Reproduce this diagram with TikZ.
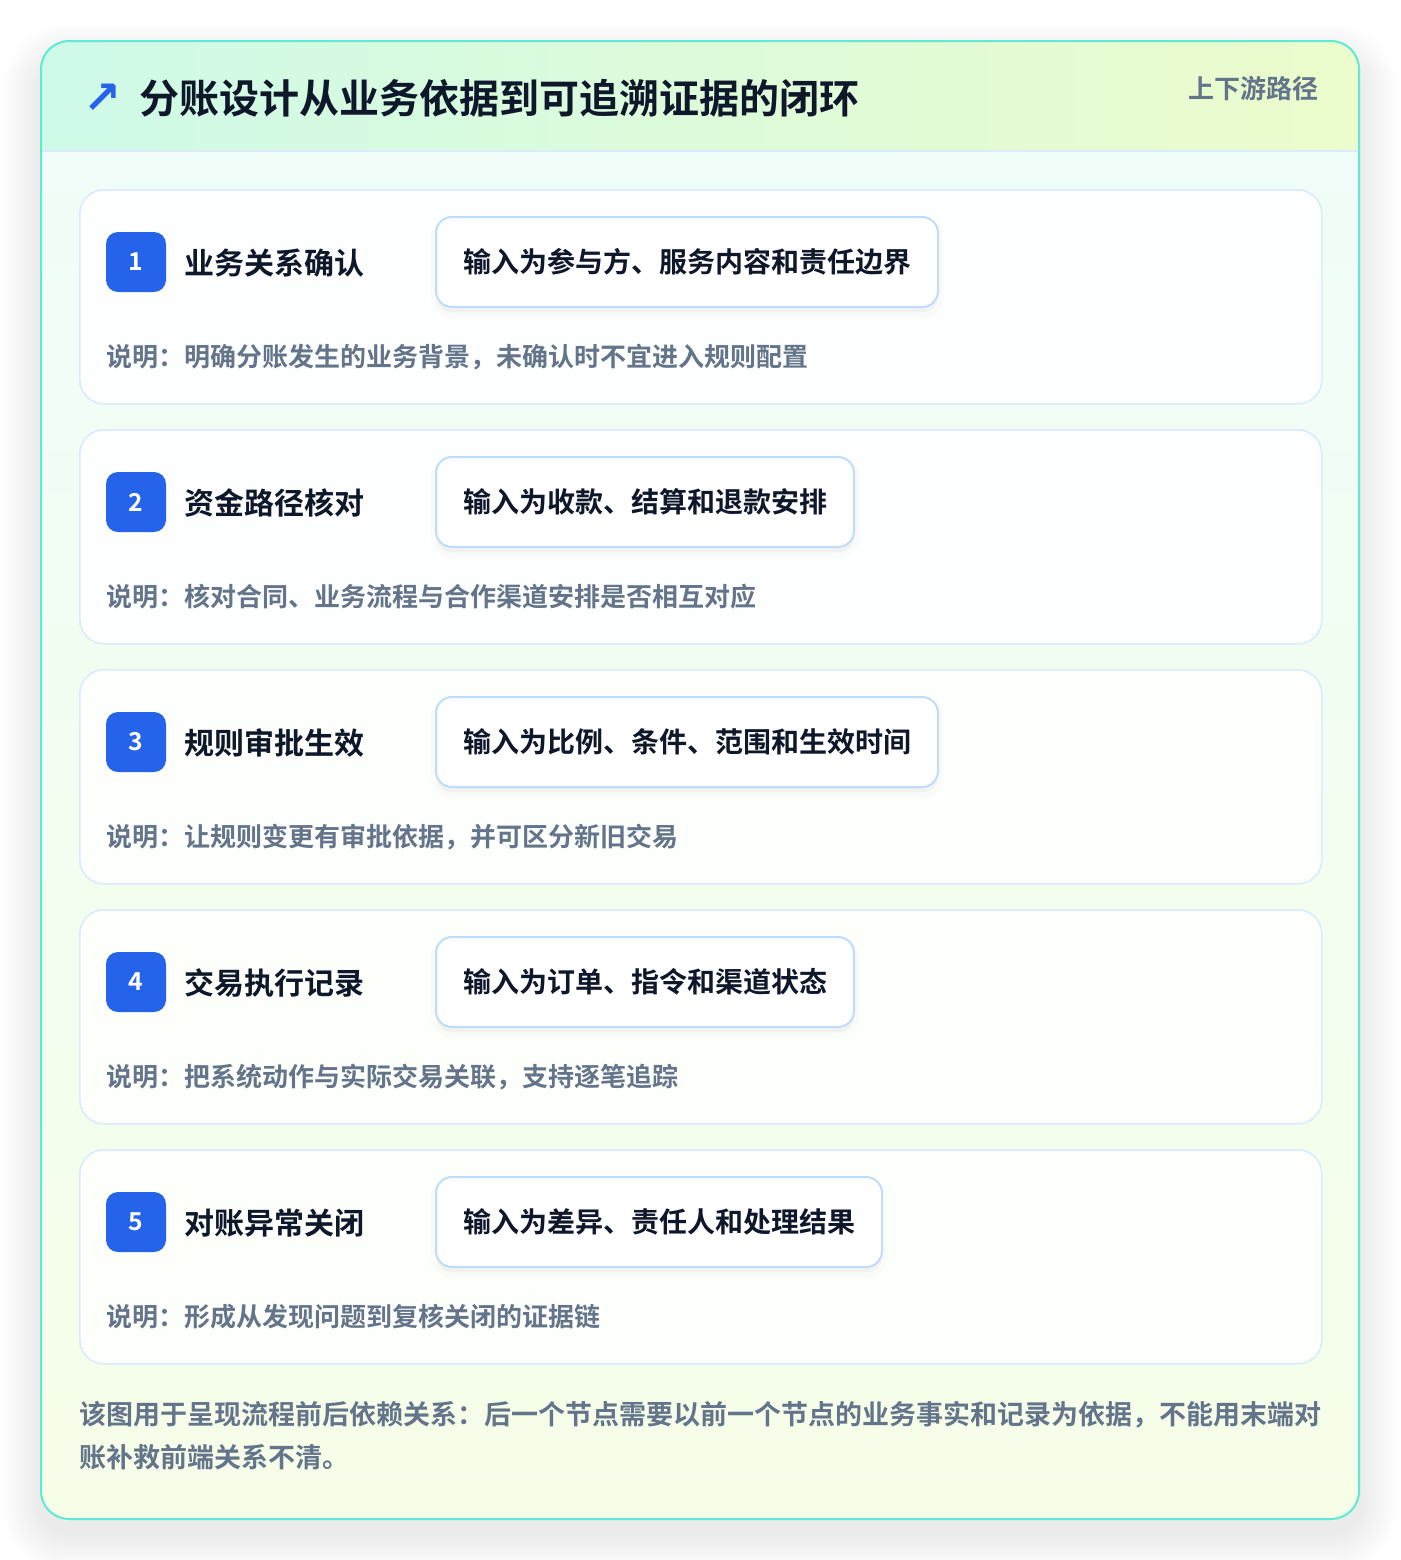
\documentclass[tikz,border=0pt]{standalone}
\usepackage{fontspec}
\setmainfont{Noto Sans CJK SC}[BoldFont={Noto Sans CJK SC Bold}]
\newfontfamily\symfont{DejaVu Sans}
\definecolor{frameteal}{RGB}{94,234,212}
\definecolor{hdrL}{RGB}{206,250,232}
\definecolor{hdrR}{RGB}{236,252,204}
\definecolor{hdrline}{RGB}{219,234,254}
\definecolor{bodyT}{RGB}{240,253,248}
\definecolor{bodyB}{RGB}{246,254,232}
\definecolor{cardline}{RGB}{219,234,254}
\definecolor{inline}{RGB}{191,219,254}
\definecolor{badgeblue}{RGB}{37,99,235}
\definecolor{ink}{RGB}{15,23,42}
\definecolor{muted}{RGB}{100,116,139}
\tikzset{
  card/.style={draw=cardline, line width=1.2pt,
    rounded corners=18pt, minimum width=931.5pt, minimum height=160.5pt, inner sep=0pt},
  badge/.style={fill=badgeblue, rounded corners=9pt, minimum width=45pt, minimum height=45pt,
    inner sep=0pt, text=white, font=\bfseries\fontsize{18.5pt}{20pt}\selectfont},
  steptitle/.style={inner sep=0pt, text=ink, font=\bfseries\fontsize{22.5pt}{26pt}\selectfont},
  inbox/.style={draw=inline, line width=1.5pt, fill=white, rounded corners=12pt,
    minimum height=67.5pt, inner xsep=20.25pt, inner ysep=0pt, text=ink,
    font=\bfseries\fontsize{21pt}{24pt}\selectfont,
    preaction={fill=black, opacity=0.03, transform canvas={yshift=-4pt}},
    preaction={draw=black, opacity=0.015, line width=8pt, transform canvas={yshift=-4pt}}},
  desc/.style={inner sep=0pt, text=muted, font=\bfseries\fontsize{19.5pt}{22pt}\selectfont},
  foot/.style={inner sep=0pt, text=muted, font=\bfseries\fontsize{20.25pt}{30pt}\selectfont}
}
\begin{document}
\begin{tikzpicture}[x=0.75pt,y=-0.75pt]
\useasboundingbox (0,0) rectangle (1400,1560);
\fill[white] (0,0) rectangle (1400,1560);
% soft shadow of the outer panel
\foreach \s in {2,4,...,40} {
  \pgfmathsetmacro\rr{21+\s*0.75}
  \fill[black, opacity=0.0035, rounded corners=\rr pt] (41-\s,41-\s+22) rectangle (1359+\s,1519+\s+14);
}
% panel background
\begin{scope}
  \clip[rounded corners=21pt] (41,41) rectangle (1359,1519);
  \shade[top color=bodyT, bottom color=bodyB] (41,151) rectangle (1359,1519);
  \shade[left color=hdrL, right color=hdrR] (41,41) rectangle (1359,151);
\end{scope}
\draw[hdrline, line width=1.5pt] (41,151) -- (1359,151);
\draw[frameteal, line width=1.5pt, rounded corners=21pt] (41,41) rectangle (1359,1519);
% header
\node[inner sep=0pt, text=badgeblue, font=\symfont\bfseries\fontsize{34pt}{36pt}\selectfont] (icon) at (102,99) {↗};
\node[anchor=west, inner sep=0pt, text=ink, font=\bfseries\fontsize{30pt}{34pt}\selectfont] (title) at (139,98) {分账设计从业务依据到可追溯证据的闭环};
\node[anchor=east, inner sep=0pt, text=muted, font=\bfseries\fontsize{19.5pt}{22pt}\selectfont] (tag) at (1319,89) {上下游路径};
% steps
\foreach \i/\ttl/\inp/\dsc in {
  1/业务关系确认/输入为参与方、服务内容和责任边界/说明：明确分账发生的业务背景，未确认时不宜进入规则配置,
  2/资金路径核对/输入为收款、结算和退款安排/说明：核对合同、业务流程与合作渠道安排是否相互对应,
  3/规则审批生效/输入为比例、条件、范围和生效时间/说明：让规则变更有审批依据，并可区分新旧交易,
  4/交易执行记录/输入为订单、指令和渠道状态/说明：把系统动作与实际交易关联，支持逐笔追踪,
  5/对账异常关闭/输入为差异、责任人和处理结果/说明：形成从发现问题到复核关闭的证据链} {
  \pgfmathsetmacro\cy{189+(\i-1)*240}
  \pgfmathtruncatemacro\mixp{(\i-1)*25}
  \colorlet{cardbg}{bodyB!\mixp!bodyT}
  \node[card, fill=white!78!cardbg, anchor=north west] (card\i) at (79,\cy) {};
  \node[badge] (badge\i) at (136,\cy+73) {\i};
  \node[steptitle, anchor=west] (step\i) at (184,\cy+74) {\ttl};
  \node[inbox, anchor=west] (input\i) at (435,\cy+73) {\inp};
  \node[desc, anchor=west] (desc\i) at (106,\cy+168) {\dsc};
}
% footer note
\node[foot, anchor=west] (foot1) at (79,1415) {该图用于呈现流程前后依赖关系：后一个节点需要以前一个节点的业务事实和记录为依据，不能用末端对};
\node[foot, anchor=west] (foot2) at (79,1457) {账补救前端关系不清。};
\end{tikzpicture}
\end{document}
